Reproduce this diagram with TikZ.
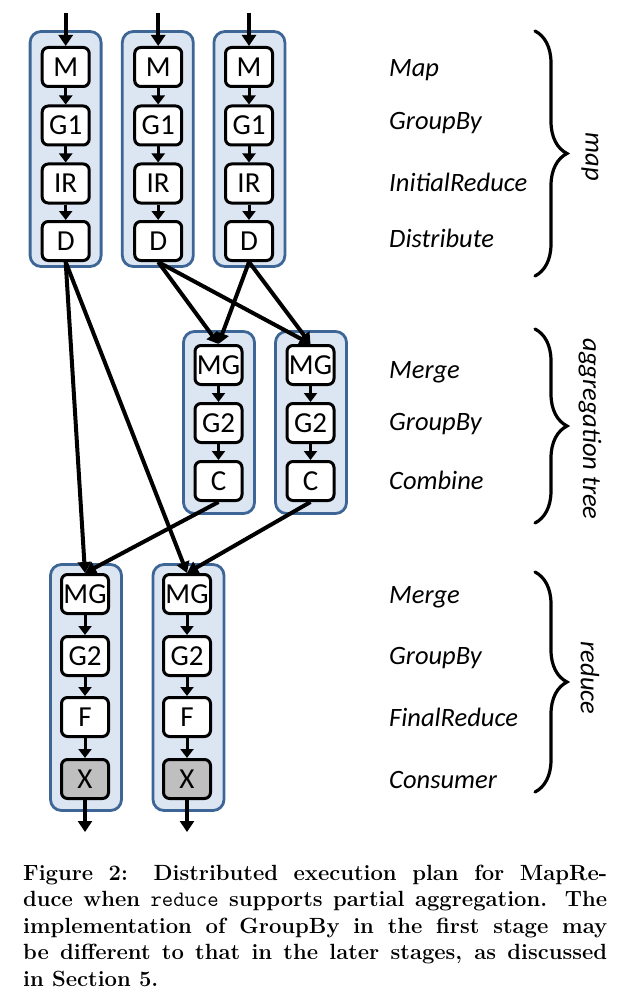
\documentclass[tikz,border=0pt]{standalone}
\usepackage{fontspec}
\newfontfamily\diagfont{Carlito}
\usetikzlibrary{arrows.meta,decorations.pathreplacing}
\definecolor{contfill}{HTML}{DCE6F2}
\definecolor{contdraw}{HTML}{3D6696}
\definecolor{xgray}{HTML}{BFBFBF}
\begin{document}
\begin{tikzpicture}[x=1pt,y=-1pt,
  op/.style={draw=black, line width=3pt, rounded corners=6pt, fill=white,
    minimum width=47pt, minimum height=39pt, inner sep=0pt,
    font=\diagfont\fontsize{29}{29}\selectfont},
  opx/.style={op, fill=xgray},
  cont/.style={draw=contdraw, line width=2.8pt, rounded corners=11pt, fill=contfill,
    inner sep=0pt, minimum width=71pt},
  sarr/.style={line width=3pt, -{Triangle[length=9pt,width=13pt]}},
  ioarr/.style={line width=3.8pt, -{Triangle[length=11pt,width=14pt]}},
  larr/.style={line width=4pt, -{Triangle[length=11pt,width=13pt]}},
  lab/.style={anchor=base west, inner sep=0pt, font=\diagfont\itshape\fontsize{26.5}{26.5}\selectfont},
  grp/.style={rotate=-90, inner sep=0pt, font=\diagfont\itshape\fontsize{26.5}{26.5}\selectfont},
  bracestyle/.style={line width=3.2pt, line cap=round, decorate,
    decoration={brace, amplitude=32pt, aspect=0.5}},
]
\useasboundingbox (0,0) rectangle (621,995);
% containers
\node[cont, minimum height=235pt] (cm1) at (65.6,149) {};
\node[cont, minimum height=235pt] (cm2) at (157.8,149) {};
\node[cont, minimum height=235pt] (cm3) at (249.4,149) {};
\node[cont, minimum height=182pt] (ca1) at (219,422.5) {};
\node[cont, minimum height=182pt] (ca2) at (311,422.5) {};
\node[cont, minimum height=246pt] (cr1) at (86,687.5) {};
\node[cont, minimum height=246pt] (cr2) at (188.5,687.5) {};
% map operators
\foreach \i/\x in {1/65.7,2/158.2,3/249} {
  \node[op] (m\i) at (\x,67) {M};
  \node[op] (ga\i) at (\x,125.5) {G1};
  \node[op] (ir\i) at (\x,183.5) {IR};
  \node[op] (d\i) at (\x,241) {D};
  \coordinate (in\i) at (\x,13);
  \draw[ioarr] (in\i) -- (m\i.north);
  \draw[sarr] (m\i) -- (ga\i);
  \draw[sarr] (ga\i) -- (ir\i);
  \draw[sarr] (ir\i) -- (d\i);
}
% aggregation tree operators
\foreach \i/\x in {1/218.5,2/310.5} {
  \node[op] (amg\i) at (\x,365) {MG};
  \node[op] (ag\i) at (\x,423) {G2};
  \node[op] (c\i) at (\x,481) {C};
  \draw[sarr] (amg\i) -- (ag\i);
  \draw[sarr] (ag\i) -- (c\i);
}
% reduce operators
\foreach \i/\x in {1/85,2/187} {
  \node[op] (rmg\i) at (\x,594) {MG};
  \node[op] (rg\i) at (\x,656) {G2};
  \node[op] (f\i) at (\x,717) {F};
  \node[opx] (x\i) at (\x,779) {X};
  \coordinate (out\i) at (\x,832);
  \draw[sarr] (rmg\i) -- (rg\i);
  \draw[sarr] (rg\i) -- (f\i);
  \draw[sarr] (f\i) -- (x\i);
  \draw[ioarr] (x\i.south) -- (out\i);
}
% long connectors
\draw[larr] (d1.south) -- (rmg1.north);
\draw[larr] (d1.south) -- (rmg2.north);
\draw[larr] (d2.south) -- (amg1.north);
\draw[larr] (d2.south) -- (amg2.north);
\draw[larr] (d3.south) -- (amg1.north);
\draw[larr] (d3.south) -- (amg2.north);
\draw[larr] (c1.south) -- (rmg1.north);
\draw[larr] (c2.south) -- (rmg2.north);
% labels
\node[lab] (l1) at (389,77) {Map};
\node[lab] (l2) at (389,130) {GroupBy};
\node[lab] (l3) at (389,192) {InitialReduce};
\node[lab] (l4) at (389,247) {Distribute};
\node[lab] (l5) at (389,378) {Merge};
\node[lab] (l6) at (389,430) {GroupBy};
\node[lab] (l7) at (389,489) {Combine};
\node[lab] (l8) at (389,603) {Merge};
\node[lab] (l9) at (389,664) {GroupBy};
\node[lab] (l10) at (389,726) {FinalReduce};
\node[lab] (l11) at (389,788) {Consumer};
% braces
\coordinate (b1t) at (535,31); \coordinate (b1b) at (535,276);
\coordinate (b2t) at (535,329); \coordinate (b2b) at (535,523);
\coordinate (b3t) at (535,572); \coordinate (b3b) at (535,792);
\draw[bracestyle] (b1t) -- (b1b);
\draw[bracestyle] (b2t) -- (b2b);
\draw[bracestyle] (b3t) -- (b3b);
\node[grp] (g1) at (590,157) {map};
\node[grp] (g2) at (590,429) {aggregation tree};
\node[grp] (g3) at (590,678) {reduce};
% caption
\node[anchor=base west, inner sep=0pt] (cap) at (23,880) {\parbox[t]{584pt}{%
  \parindent=0pt\hyphenpenalty=10000\tolerance=10000
  \bfseries\fontsize{22}{26.5}\selectfont
  Figure 2: Distributed execution plan for MapRe-\linebreak
  duce when {\mdseries\ttfamily reduce} supports partial aggregation. The\linebreak
  implementation of GroupBy in the first stage may\linebreak
  be different to that in the later stages, as discussed\linebreak
  in Section 5.}};
\end{tikzpicture}
\end{document}
